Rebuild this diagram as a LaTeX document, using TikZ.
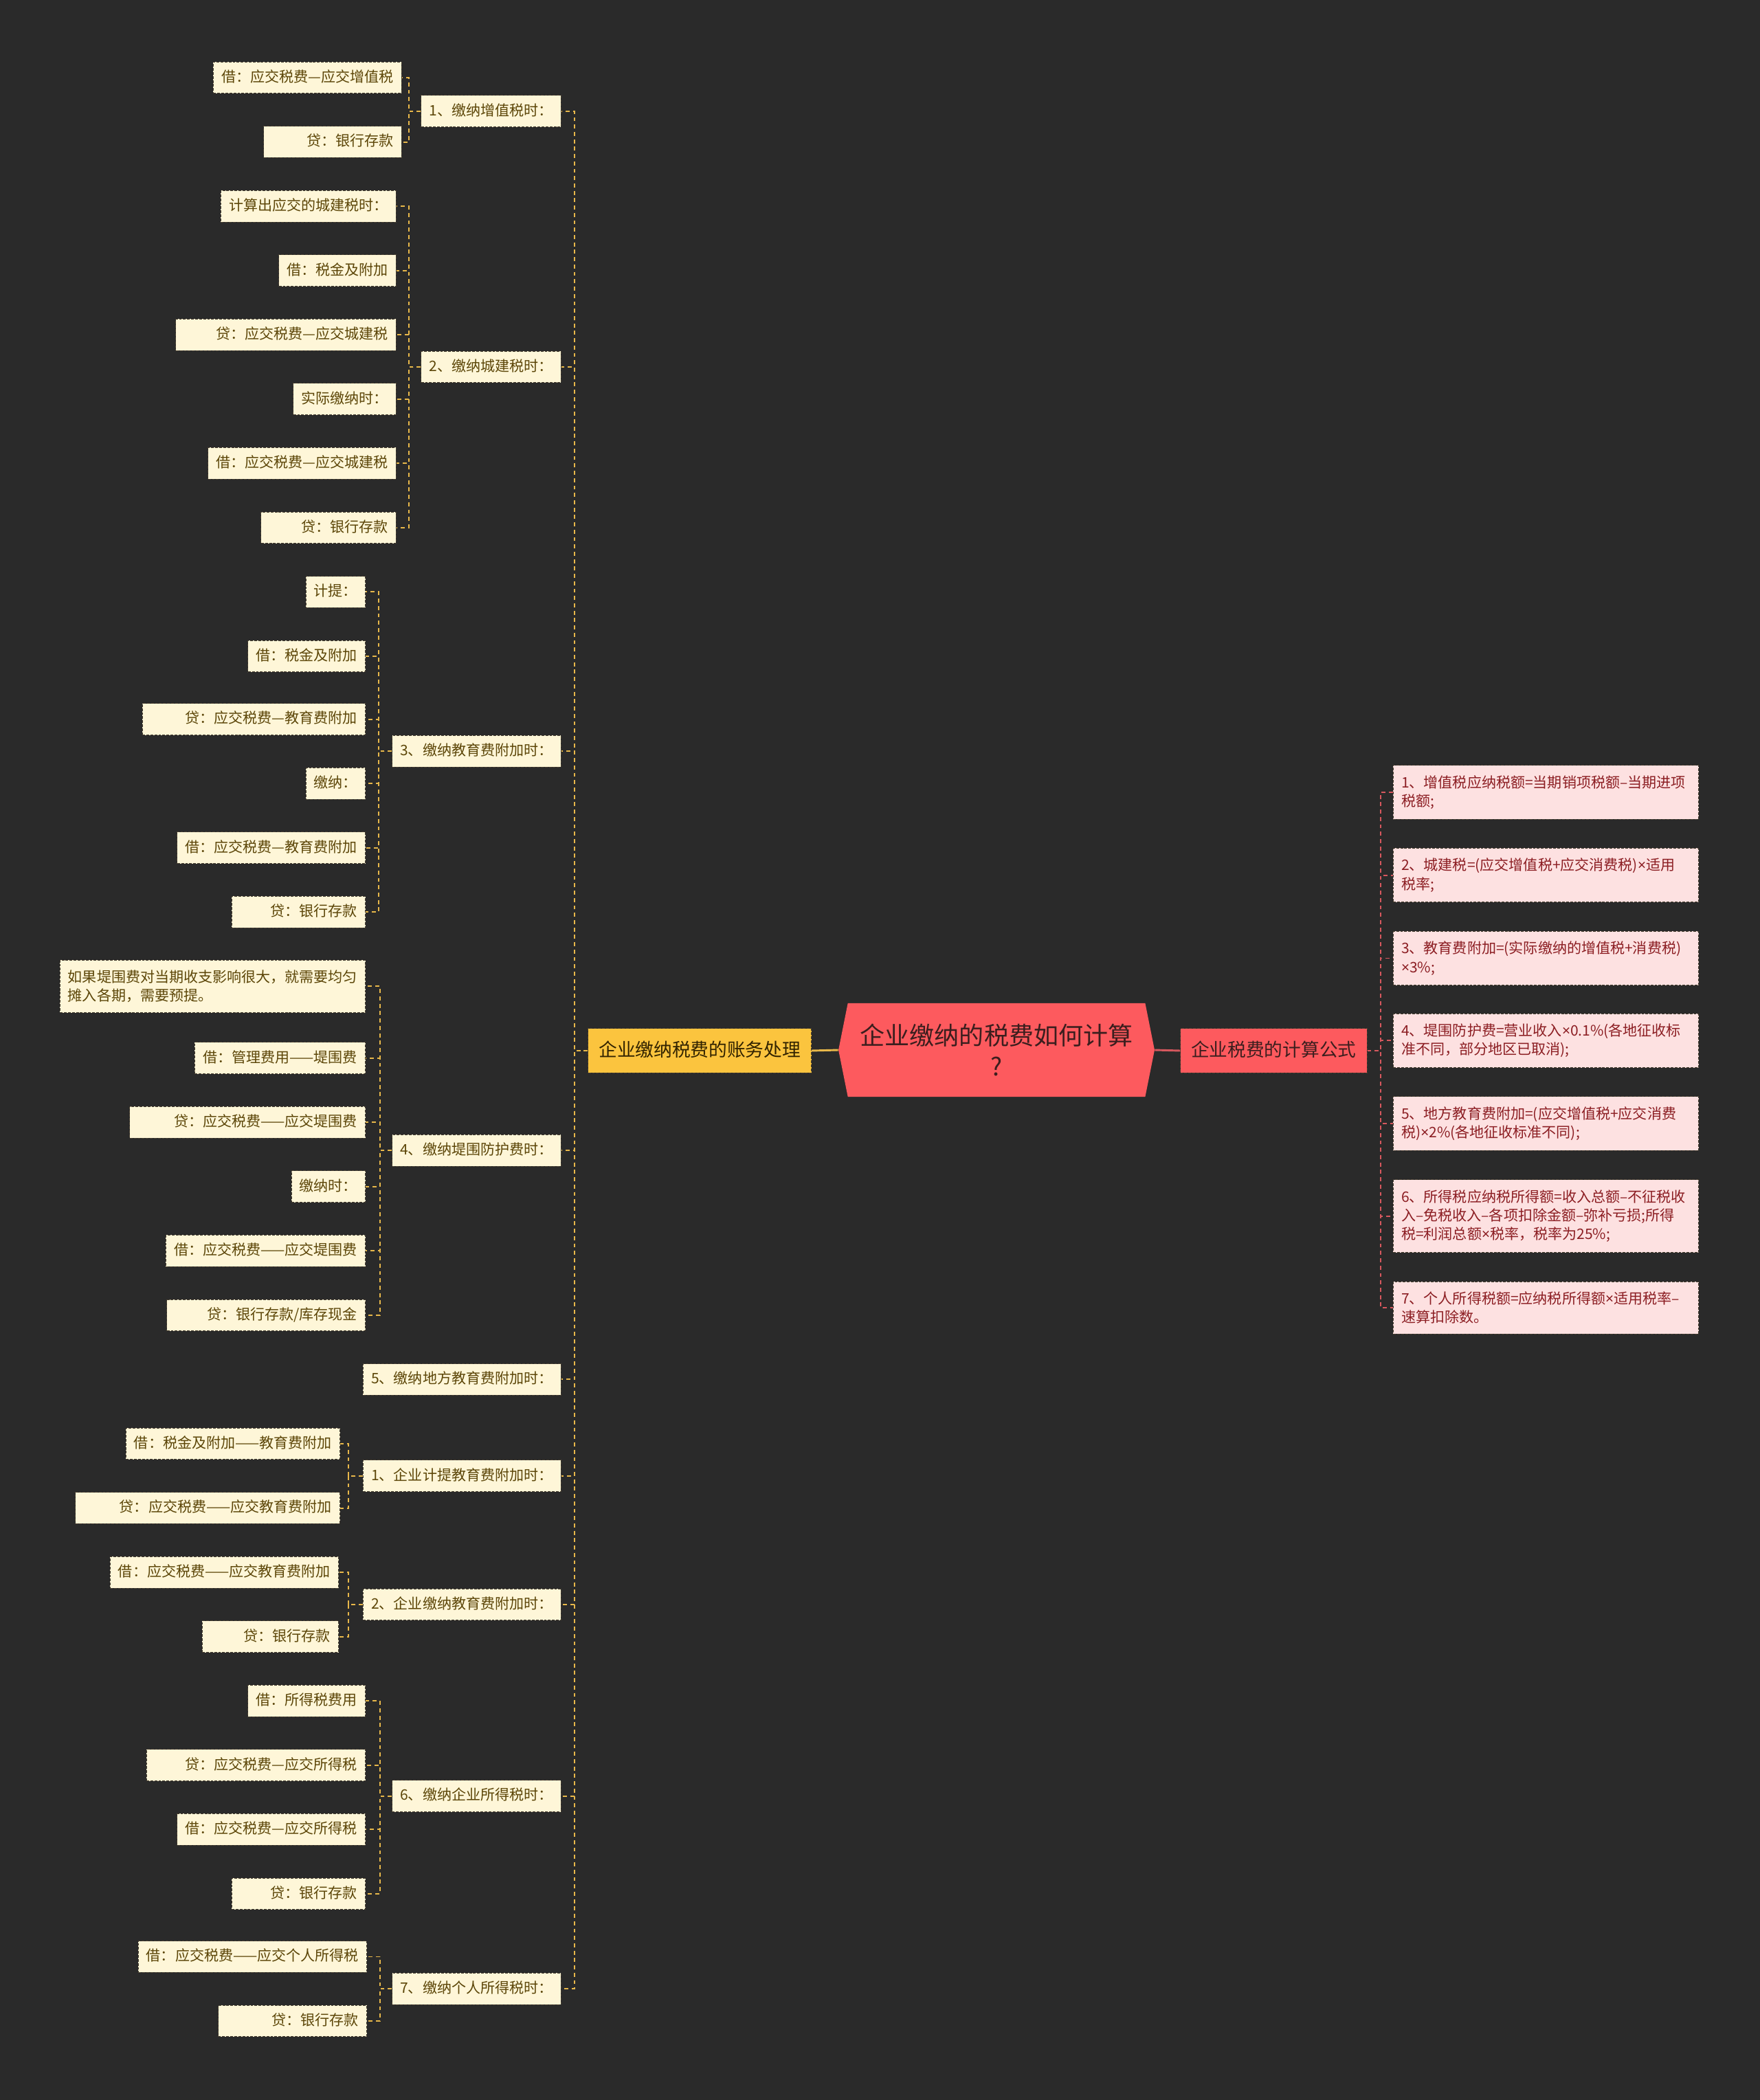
\documentclass[tikz,border=0pt]{standalone}
\usepackage{fontspec}
\setmainfont{Noto Sans CJK SC}
\newfontfamily\latinfont{Noto Sans}
\newcommand{\tms}{{\latinfont ×}}
\usepackage{tikz}

\definecolor{bgdark}{RGB}{42,42,42}
\definecolor{rootred}{RGB}{253,90,94}
\definecolor{roottext}{RGB}{59,30,30}
\definecolor{gold}{RGB}{251,196,62}
\definecolor{goldtext}{RGB}{50,35,0}
\definecolor{cream}{RGB}{254,246,216}
\definecolor{creamtext}{RGB}{92,70,8}
\definecolor{boxedge}{RGB}{70,62,48}
\definecolor{golink}{RGB}{232,184,74}
\definecolor{blush}{RGB}{253,225,225}
\definecolor{blushtext}{RGB}{140,30,35}
\definecolor{redlink}{RGB}{214,88,94}

\begin{document}
\begin{tikzpicture}[x=1pt,y=-1pt,
  box/.style={draw=boxedge,dash pattern=on 2pt off 1pt,line width=0.5pt,inner xsep=6pt,font=\fontsize{10.8}{14}\selectfont},
  leaf/.style={box,fill=cream,text=creamtext,inner ysep=6.5pt,text height=8.5pt,text depth=2pt,anchor=east},
  credit/.style={leaf,execute at begin node={\hspace*{#1}}},
  credit/.default=24pt,
  note/.style={box,fill=cream,text=creamtext,inner ysep=7.5pt,text width=216pt,align=left,anchor=east},
  formula/.style={box,fill=blush,text=blushtext,inner ysep=7.5pt,text width=216pt,align=left,anchor=west},
  branch/.style={draw=boxedge,dash pattern=on 2pt off 1pt,line width=0.5pt,inner xsep=8pt,inner ysep=9.75pt,text height=11pt,text depth=2.5pt,font=\fontsize{13.7}{16}\selectfont},
  llink/.style={golink,line width=1pt,dash pattern=on 3pt off 2.5pt},
  rlink/.style={redlink,line width=1pt,dash pattern=on 3pt off 2.5pt}]

\fill[bgdark] (0,0) rectangle (1314,1568);

% centre
\fill[rootred] (633,749) -- (855,749) -- (862,784) -- (855,819) -- (633,819) -- (626,784) -- cycle;
\node[minimum width=236pt,minimum height=70pt,inner sep=0pt,align=center,text=roottext,
  font=\fontsize{18.5}{23}\selectfont] (root) at (744,784) {企业缴纳的税费如何计算\\?};

\node[branch,fill=gold,text=goldtext,anchor=east] (acct) at (606,784.5) {企业缴纳税费的账务处理};
\node[branch,fill=rootred,text=roottext,anchor=west] (calc) at (881,784.5) {企业税费的计算公式};
\draw[golink,line width=1.5pt] (acct.east) -- (root.west);
\draw[redlink,line width=1.5pt] (root.east) -- (calc.west);

% left: 账务处理
\node[leaf] (vat) at (419,83) {1、缴纳增值税时：};
\node[leaf] (city) at (419,274) {2、缴纳城建税时：};
\node[leaf] (edu) at (419,561) {3、缴纳教育费附加时：};
\node[leaf] (dike) at (419,859) {4、缴纳堤围防护费时：};
\node[leaf] (local) at (419,1030) {5、缴纳地方教育费附加时：};
\node[leaf] (eduA) at (419,1102) {1、企业计提教育费附加时：};
\node[leaf] (eduB) at (419,1198) {2、企业缴纳教育费附加时：};
\node[leaf] (cit) at (419,1341) {6、缴纳企业所得税时：};
\node[leaf] (pit) at (419,1485) {7、缴纳个人所得税时：};
\foreach \n in {vat,city,edu,dike,local,eduA,eduB,cit,pit}
  \draw[llink] (acct.west) -- ++(-10,0) |- (\n.east);

\node[leaf] (vat1) at (300,58) {借：应交税费—应交增值税};
\node[credit=26pt] (vat2) at (300,106) {贷：银行存款};

\node[leaf] (city1) at (296,154) {计算出应交的城建税时：};
\node[leaf] (city2) at (296,202) {借：税金及附加};
\node[credit] (city3) at (296,250) {贷：应交税费—应交城建税};
\node[leaf] (city4) at (296,298) {实际缴纳时：};
\node[leaf] (city5) at (296,346) {借：应交税费—应交城建税};
\node[credit] (city6) at (296,394) {贷：银行存款};

\node[leaf] (edu1) at (273,442) {计提：};
\node[leaf] (edu2) at (273,490) {借：税金及附加};
\node[credit=26pt] (edu3) at (273,537) {贷：应交税费—教育费附加};
\node[leaf] (edu4) at (273,585) {缴纳：};
\node[leaf] (edu5) at (273,633) {借：应交税费—教育费附加};
\node[credit=23pt] (edu6) at (273,681) {贷：银行存款};

\node[note] (dike1) at (273,736.5) {如果堤围费对当期收支影响很大，就需要均匀\\摊入各期，需要预提。};
\node[leaf] (dike2) at (273,790) {借：管理费用——堤围费};
\node[credit=27pt] (dike3) at (273,838) {贷：应交税费——应交堤围费};
\node[leaf] (dike4) at (273,886) {缴纳时：};
\node[leaf] (dike5) at (273,934) {借：应交税费——应交堤围费};
\node[credit] (dike6) at (273,982) {贷：银行存款/库存现金};

\node[leaf] (eduA1) at (254,1078) {借：税金及附加——教育费附加};
\node[credit=27pt] (eduA2) at (254,1126) {贷：应交税费——应交教育费附加};

\node[leaf] (eduB1) at (253,1174) {借：应交税费——应交教育费附加};
\node[credit=25pt] (eduB2) at (253,1222) {贷：银行存款};

\node[leaf] (cit1) at (273,1270) {借：所得税费用};
\node[credit=23pt] (cit2) at (273,1318) {贷：应交税费—应交所得税};
\node[leaf] (cit3) at (273,1366) {借：应交税费—应交所得税};
\node[credit=23pt] (cit4) at (273,1414) {贷：银行存款};

\node[leaf] (pit1) at (274,1461) {借：应交税费——应交个人所得税};
\node[credit=34pt] (pit2) at (274,1509) {贷：银行存款};

\foreach \c in {1,2} \draw[llink] (vat.west) -- ++(-9,0) |- (vat\c.east);
\foreach \c in {1,...,6} \draw[llink] (city.west) -- ++(-9,0) |- (city\c.east);
\foreach \c in {1,...,6} \draw[llink] (edu.west) -- ++(-10,0) |- (edu\c.east);
\foreach \c in {1,...,6} \draw[llink] (dike.west) -- ++(-9,0) |- (dike\c.east);
\foreach \c in {1,2} \draw[llink] (eduA.west) -- ++(-11,0) |- (eduA\c.east);
\foreach \c in {1,2} \draw[llink] (eduB.west) -- ++(-11,0) |- (eduB\c.east);
\foreach \c in {1,...,4} \draw[llink] (cit.west) -- ++(-9,0) |- (cit\c.east);
\foreach \c in {1,2} \draw[llink] (pit.west) -- ++(-9,0) |- (pit\c.east);

% right: 计算公式
\node[formula] (f1) at (1040,591.5) {1、增值税应纳税额=当期销项税额–当期进项\\税额;};
\node[formula] (f2) at (1040,653.5) {2、城建税=(应交增值税+应交消费税)\tms 适用\\税率;};
\node[formula] (f3) at (1040,715.5) {3、教育费附加=(实际缴纳的增值税+消费税)\\\tms 3\%;};
\node[formula] (f4) at (1040,777) {4、堤围防护费=营业收入\tms 0.1\%(各地征收标\\准不同，部分地区已取消);};
\node[formula] (f5) at (1040,839) {5、地方教育费附加=(应交增值税+应交消费\\税)\tms 2\%(各地征收标准不同);};
\node[formula] (f6) at (1040,908) {6、所得税应纳税所得额=收入总额–不征税收\\入–免税收入–各项扣除金额–弥补亏损;所得\\税=利润总额\tms 税率，税率为25\%;};
\node[formula] (f7) at (1040,976.5) {7、个人所得税额=应纳税所得额\tms 适用税率–\\速算扣除数。};
\foreach \i in {1,...,7}
  \draw[rlink] (calc.east) -- ++(10,0) |- (f\i.west);
\end{tikzpicture}
\end{document}
